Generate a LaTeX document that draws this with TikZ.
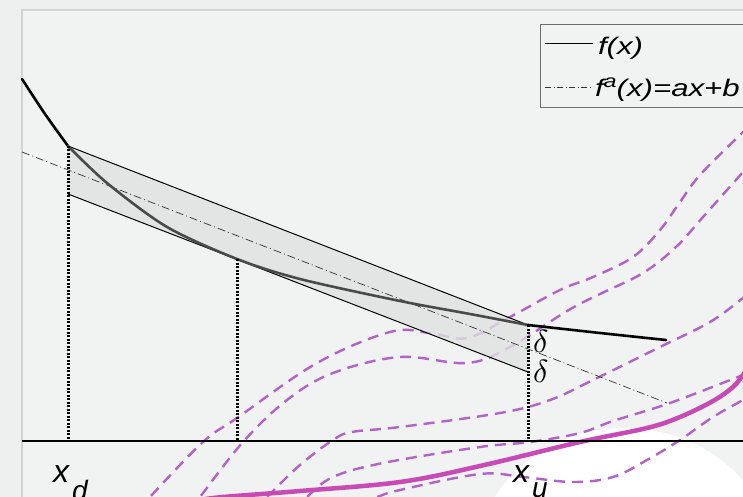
\documentclass[tikz,border=0pt]{standalone}
\usepackage{fontspec}
\setmainfont{Liberation Sans}
\usepackage{graphicx}
\definecolor{bgout}{HTML}{EEEFEF}
\definecolor{bgin}{HTML}{F1F2F2}
\definecolor{panelborder}{HTML}{D3D3D3}
\definecolor{bandfill}{HTML}{E0E1E1}
\definecolor{purp}{HTML}{B263C8}
\definecolor{mag}{HTML}{C74AB5}
\definecolor{curvegray}{HTML}{4A4A4A}
\definecolor{legborder}{HTML}{6E6E6E}
\begin{document}
\begin{tikzpicture}[x=1pt,y=-1pt,
  purpd/.style={draw=purp, line width=2.4pt, dash pattern=on 11pt off 7pt},
  magline/.style={draw=mag, line width=4.5pt},
  bandline/.style={draw=black, line width=1pt},
  fcurve/.style={line width=2.6pt, line cap=round},
  vdots/.style={draw=black, line width=3pt, dash pattern=on 2pt off 1.5pt},
  dashdot/.style={draw=black!80, line width=0.7pt, dash pattern=on 8pt off 3pt on 1pt off 3pt},
  legdashdot/.style={draw=black!80, line width=0.7pt, dash pattern=on 6pt off 2.5pt on 1pt off 2.5pt},
  lbl/.style={inner sep=0pt, outer sep=0pt, anchor=base west},
]
\useasboundingbox (0,0) rectangle (743,497);
\begin{scope}
\clip (0,0) rectangle (743,497);
\fill[bgout] (0,0) rectangle (743,497);
\fill[bgin] (22,10) rectangle (750,505);
\draw[panelborder, line width=1.8pt] (22,505) -- (22,10) -- (750,10);
\fill[white] (625,570) ellipse [x radius=152pt, y radius=142pt];
% background purple curves
\draw[purpd] plot[smooth, tension=0.6] coordinates {(140,510) (150,497) (203,442) (237,418) (317,363) (390,332) (430,333) (467,338) (510,317) (560,290) (593,277) (633,257) (660,230) (678,205) (700,175) (743,132) (755,120)};
\draw[purpd] plot[smooth, tension=0.6] coordinates {(190,510) (200,497) (243,442) (287,400) (333,373) (400,357) (467,363) (510,347) (567,311) (600,294) (643,273) (676,247) (703,217) (743,172) (755,158)};
\draw[purpd] plot[smooth, tension=0.6] coordinates {(255,510) (267,497) (300,465) (333,440) (352,432) (400,427) (500,413) (550,400) (593,380) (660,347) (710,322) (743,298) (755,288)};
\draw[purpd] plot[smooth, tension=0.6] coordinates {(295,510) (307,497) (333,477) (383,463) (480,447) (530,442) (580,433) (613,421) (670,403) (743,375) (760,368)};
\draw[purpd] plot[smooth, tension=0.6] coordinates {(360,502) (377,497) (400,490) (480,474) (523,477) (573,482) (613,477) (647,460) (680,440) (713,417) (743,400) (760,390)};
\draw[magline] plot[smooth, tension=0.6] coordinates {(200,500) (223,497) (300,491) (400,482) (480,466) (580,442) (647,428) (680,417) (713,401) (733,387) (743,375) (750,365)};
\end{scope}
% band
\coordinate (ul) at (68,146);
\coordinate (ur) at (528,325);
\coordinate (lr) at (528,372);
\coordinate (ll) at (68,194);
\coordinate (tp) at (237,259);
\fill[bandfill, fill opacity=0.8] (ul) -- (ur) -- (lr) -- (ll) -- cycle;
\draw[bandline] (ul) -- (ur);
\draw[bandline] (ll) -- (lr);
% dash-dot line f^a
\coordinate (da) at (22,152);
\coordinate (db) at (667,403);
\draw[dashdot] (da) -- (db);
% f(x)
\draw[fcurve, black] plot[smooth] coordinates {(22,79) (45,114) (68,146)};
\draw[fcurve, curvegray] plot[smooth] coordinates {(68,146) (107,183) (167,227) (237,259) (300,279) (400,301) (470,314) (528,325)};
\draw[fcurve, black] plot[smooth] coordinates {(528,325) (600,333) (666,340)};
% axis
\coordinate (axl) at (22,441);
\coordinate (axr) at (743,441);
\draw[line width=1.3pt] (axl) -- (axr);
% dotted verticals
\coordinate (ad) at (68,441);
\coordinate (at) at (237,441);
\coordinate (au) at (528,441);
\draw[vdots] (ul) -- (ad);
\draw[vdots] (tp) -- (at);
\draw[vdots] (ur) -- (au);
% labels
\node[lbl] (d1) at (533,352) {\scalebox{3.2}{$\delta$}};
\node[lbl] (d2) at (533,382) {\scalebox{3.2}{$\delta$}};
\node[lbl] (xd) at (53,482) {\fontsize{32}{32}\selectfont\itshape x};
\node[lbl] (xdsub) at (72,500) {\fontsize{28}{28}\selectfont\itshape d};
\node[lbl] (xu) at (513,482) {\fontsize{32}{32}\selectfont\itshape x};
\node[lbl] (xusub) at (532,497.5) {\fontsize{28}{28}\selectfont\itshape u};
% legend
\node[draw=legborder, line width=1.4pt, fill=bgin, minimum width=230pt, minimum height=83pt, anchor=north west, inner sep=0pt] (legend) at (540,24) {};
\coordinate (l1a) at (545,44);
\coordinate (l1b) at (593,44);
\coordinate (l2a) at (545,87);
\coordinate (l2b) at (593,87);
\draw[line width=1pt] (l1a) -- (l1b);
\draw[legdashdot] (l2a) -- (l2b);
\node[lbl] (t1) at (598,55) {\scalebox{1.3}[1]{\fontsize{24}{24}\selectfont\itshape f(x)}};
\node[lbl] (t2) at (595,97) {\scalebox{1.3}[1]{\fontsize{24}{24}\selectfont\itshape f\raisebox{9pt}{\fontsize{18}{18}\selectfont a}(x)=ax+b}};
\end{tikzpicture}
\end{document}
